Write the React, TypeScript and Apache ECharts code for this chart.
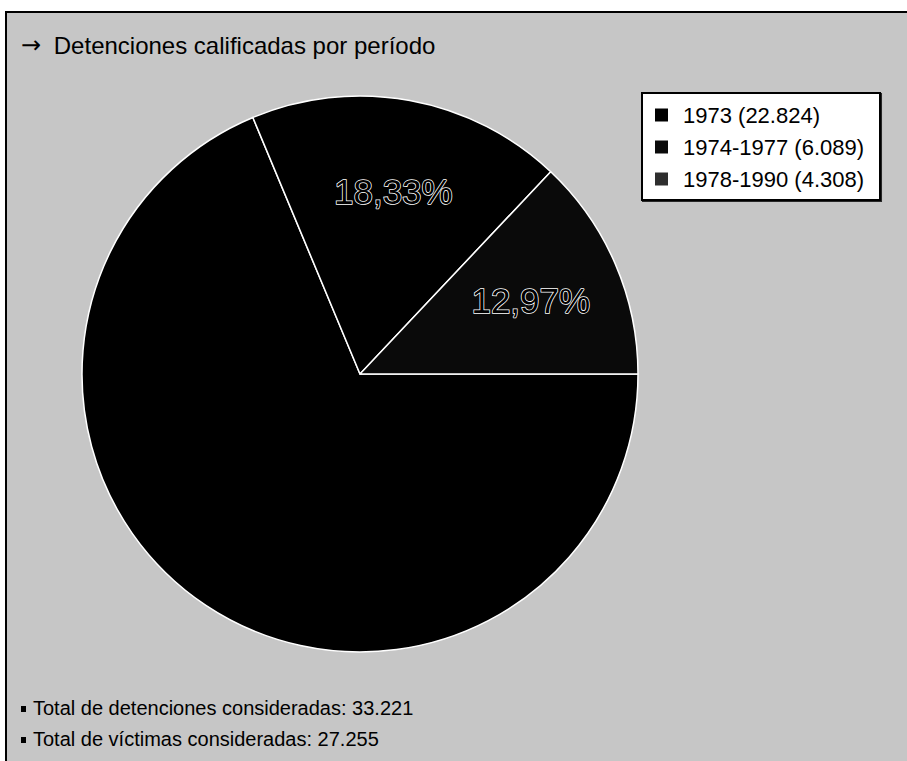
import React, { useEffect, useRef } from "react";
import * as echarts from "echarts";

const TITLE_TEXT = "Detenciones calificadas por período";
const periods = ["1973", "1974-1977", "1978-1990"];
const detentions = [22824, 6089, 4308];
const sliceColors = ["#000000", "#000000", "#0a0a0a"];
const legendColors = ["#000000", "#0a0a0a", "#2e2e2e"];
const totalDetentionsLabel = "Total de detenciones consideradas";
const totalVictimsLabel = "Total de víctimas consideradas";
const totalVictims = 27255;

const FONT = '"Liberation Sans", Arial, Helvetica, sans-serif';

const fmtThousands = (n: number) =>
  String(n).replace(/\B(?=(\d{3})+(?!\d))/g, ".");

export default function App() {
  const ref = useRef<HTMLDivElement>(null);

  useEffect(() => {
    if (!ref.current) return;
    const chart = echarts.init(ref.current, null, { renderer: "svg" });
    const totalDet = detentions.reduce((a, b) => a + b, 0);
    const data = periods.map((p, i) => ({
      name: p,
      value: detentions[i],
      itemStyle: { color: sliceColors[i] },
    }));

    chart.setOption({
      animation: false,
      backgroundColor: "#ffffff",
      title: {
        text: `{arr|→} ${TITLE_TEXT}`,
        left: 16,
        top: 28,
        textStyle: {
          fontFamily: FONT,
          fontSize: 24,
          fontWeight: "normal",
          color: "#000",
          rich: {
            arr: {
              fontFamily: '"DejaVu Sans", sans-serif',
              fontSize: 24,
              color: "#000",
              padding: [0, 6, 0, 0],
            },
          },
        },
      },
      legend: {
        orient: "vertical",
        left: 642,
        top: 93,
        data: periods.map((p, i) => ({
          name: p,
          itemStyle: { color: legendColors[i] },
        })),
        icon: "rect",
        itemWidth: 15,
        itemHeight: 15,
        itemGap: 10,
        padding: [11, 16, 10, 11],
        backgroundColor: "#ffffff",
        borderColor: "#000000",
        borderWidth: 2,
        shadowColor: "rgba(0,0,0,0.8)",
        shadowOffsetX: 1,
        shadowOffsetY: 1,
        selectedMode: false,
        formatter: (name: string) => {
          const i = periods.indexOf(name);
          return `${name} (${fmtThousands(detentions[i])})`;
        },
        textStyle: {
          fontFamily: FONT,
          fontSize: 22,
          color: "#000",
          padding: [0, 0, 0, 9],
        },
      },
      graphic: [
        {
          type: "rect",
          z: -10,
          silent: true,
          shape: { x: 6, y: 12, width: 1000, height: 1000 },
          style: { fill: "#c6c6c6", stroke: "#000", lineWidth: 2 },
        },
        {
          type: "rect",
          silent: true,
          shape: { x: 21, y: 706, width: 5, height: 6 },
          style: { fill: "#000" },
        },
        {
          type: "text",
          silent: true,
          x: 33,
          y: 708,
          style: {
            text: `${totalDetentionsLabel}: ${fmtThousands(totalDet)}`,
            font: `20px ${FONT}`,
            fill: "#000",
            verticalAlign: "middle",
          },
        },
        {
          type: "rect",
          silent: true,
          shape: { x: 21, y: 737, width: 5, height: 6 },
          style: { fill: "#000" },
        },
        {
          type: "text",
          silent: true,
          x: 33,
          y: 739,
          style: {
            text: `${totalVictimsLabel}: ${fmtThousands(totalVictims)}`,
            font: `20px ${FONT}`,
            fill: "#000",
            verticalAlign: "middle",
          },
        },
      ],
      series: [
        {
          type: "pie",
          center: [360, 374],
          radius: 278,
          startAngle: 0,
          clockwise: true,
          data,
          label: { show: false },
          labelLine: { show: false },
          itemStyle: { borderColor: "#ffffff", borderWidth: 1.5 },
          emphasis: { disabled: true },
          silent: true,
        },
        {
          type: "pie",
          center: [360, 374],
          radius: [88, 278],
          startAngle: 0,
          clockwise: true,
          z: 5,
          data: periods.map((p, i) => ({ name: p, value: detentions[i] })),
          itemStyle: { color: "transparent", borderWidth: 0 },
          legendHoverLink: false,
          silent: true,
          emphasis: { disabled: true },
          labelLine: { show: false },
          label: {
            show: true,
            position: "inside",
            formatter: (p: any) =>
              p.dataIndex === 0
                ? ""
                : ((p.value / totalDet) * 100).toFixed(2).replace(".", ",") + "%",
            fontFamily: FONT,
            fontSize: 35,
            color: "#000000",
            textBorderColor: "#ffffff",
            textBorderWidth: 1.5,
          },
        },
      ],
    });
    return () => chart.dispose();
  }, []);

  return (
    <div
      ref={ref}
      style={{ position: "absolute", left: 0, top: 0, width: 907, height: 761 }}
    />
  );
}
